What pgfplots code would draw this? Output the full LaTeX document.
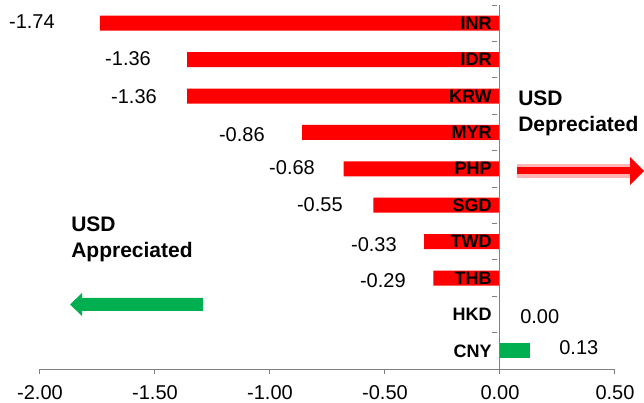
\documentclass[border=0pt]{standalone}
\usepackage{fontspec}
\setmainfont{Liberation Sans}
\usepackage{pgfplots}
\pgfplotsset{compat=1.18}
\definecolor{barred}{HTML}{FF0000}
\definecolor{bargreen}{HTML}{00B050}
\definecolor{axisgray}{HTML}{808080}
\definecolor{pinkband}{HTML}{FFB3B3}
\begin{document}
\begin{tikzpicture}
\useasboundingbox (0,0) rectangle (483pt,-302.25pt);
\begin{axis}[
  at={(30pt,-276.75pt)}, anchor=south west,
  scale only axis, width=431.25pt, height=273pt,
  xmin=-2, xmax=0.5, ymin=0.5, ymax=10.5, y dir=reverse,
  axis x line=bottom, axis y line=center,
  every inner x axis line/.append style={-},
  every inner y axis line/.append style={-},
  every outer x axis line/.append style={-},
  every outer y axis line/.append style={-},
  axis line style={draw=axisgray, line width=0.75pt},
  tick style={draw=axisgray, line width=0.75pt},
  y tick style={xshift=-2pt},
  tick align=outside,
  major tick length=4pt,
  xtick={-2,-1.5,-1,-0.5,0,0.5},
  xticklabels={-2.00,-1.50,-1.00,-0.50,0.00,0.50},
  xticklabel style={font=\fontsize{15}{18}\selectfont, inner sep=0pt, yshift=-8pt},
  ytick={0.5,1.5,...,10.5},
  yticklabels={},
  extra y ticks={1,2,3,4,5,6,7,8,9,10},
  extra y tick labels={INR,IDR,KRW,MYR,PHP,SGD,TWD,THB,HKD,CNY},
  extra y tick style={major tick length=0pt,
    yticklabel style={font=\bfseries\fontsize{13.5}{16}\selectfont, inner sep=0pt, anchor=east, xshift=-6pt}},
  /pgf/number format/assume math mode=true,
  axis on top,
  clip=false,
]
\addplot[xbar, bar width=11.25pt, bar shift=0pt, fill=barred, draw=none]
  coordinates {(-1.74,1) (-1.36,2) (-1.36,3) (-0.86,4) (-0.68,5) (-0.55,6) (-0.33,7) (-0.29,8) (0,9)};
\addplot[xbar, bar width=11.25pt, bar shift=0pt, fill=bargreen, draw=none]
  coordinates {(0.13,10)};
\begin{scope}[every node/.style={font=\fontsize{15}{18}\selectfont, inner sep=0pt}]
\node[anchor=east] at (axis cs:-1.935,0.97) {-1.74};
\node[anchor=east] at (axis cs:-1.517,1.98) {-1.36};
\node[anchor=east] at (axis cs:-1.491,3.03) {-1.36};
\node[anchor=east] at (axis cs:-1.022,4.07) {-0.86};
\node[anchor=east] at (axis cs:-0.804,4.98) {-0.68};
\node[anchor=east] at (axis cs:-0.683,5.99) {-0.55};
\node[anchor=east] at (axis cs:-0.448,7.07) {-0.33};
\node[anchor=east] at (axis cs:-0.409,8.08) {-0.29};
\node[anchor=west] at (axis cs:0.087,9.07) {0.00};
\node[anchor=west] at (axis cs:0.257,9.92) {0.13};
\end{scope}
\end{axis}
\begin{scope}[x=0.75pt, y=-0.75pt]
\node[anchor=west, align=left, inner sep=0pt, font=\bfseries\fontsize{15.75}{19.5}\selectfont] at (518,113) {USD\\Depreciated};
\node[anchor=west, align=left, inner sep=0pt, font=\bfseries\fontsize{15.75}{19.5}\selectfont] at (71,239) {USD\\Appreciated};
\fill[bargreen] (203,298) -- (82,298) -- (82,293) -- (70,304.5) -- (82,316) -- (82,311) -- (203,311) -- cycle;
\fill[pinkband] (517,164) rectangle (632,178);
\fill[barred] (517,167) rectangle (632,174.5);
\fill[barred] (630,157) -- (644,171) -- (630,185) -- cycle;
\end{scope}
\end{tikzpicture}
\end{document}
